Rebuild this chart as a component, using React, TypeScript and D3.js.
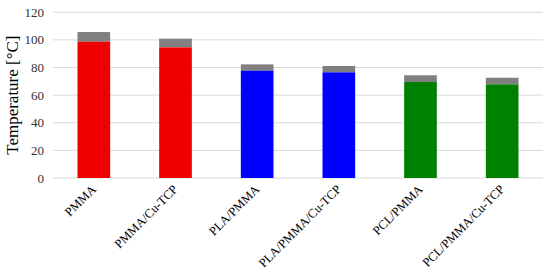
import React from 'react';
import * as d3 from 'd3';

const categories = ['PMMA', 'PMMA/Cu-TCP', 'PLA/PMMA', 'PLA/PMMA/Cu-TCP', 'PCL/PMMA', 'PCL/PMMA/Cu-TCP'];
// lower temperature (coloured part) and the extra range on top (grey part)
const baseValues = [98.7, 94.6, 77.7, 76.5, 69.5, 67.8];
const topValues = [105.7, 100.9, 82.3, 81.1, 74.4, 72.6];
const barColors = ['#ee0000', '#ee0000', '#0000ff', '#0000ff', '#008000', '#008000'];
const yTicks = [0, 20, 40, 60, 80, 100, 120];

const width = 550;
const height = 277;
const font = '"Liberation Serif", "Times New Roman", serif';

export default function App() {
    const x = d3.scaleBand<string>()
        .domain(categories)
        .range([53, 543])
        .padding(0);

    const y = d3.scaleLinear()
        .domain([0, 120])
        .range([178, 12.3]);

    const barW = x.bandwidth() * 0.4;

    return (
        <svg width={width} height={height}
             style={{ position: 'absolute', left: 0, top: 0, background: '#fff' }}>
            {yTicks.map(t => (
                <g key={t}>
                    <line x1={53} x2={543} y1={y(t)} y2={y(t)} stroke="#d9d9d9" strokeWidth={1} />
                    <text x={44} y={y(t)} dy="0.35em" textAnchor="end"
                          fontFamily={font} fontSize={13} fill="#333">{t}</text>
                </g>
            ))}
            {categories.map((c, i) => {
                const cx = x(c)! + x.bandwidth() / 2;
                return (
                    <g key={c}>
                        <rect x={cx - barW / 2} y={y(topValues[i])} width={barW}
                              height={y(baseValues[i]) - y(topValues[i])} fill="#808080" />
                        <rect x={cx - barW / 2} y={y(baseValues[i])} width={barW}
                              height={y(0) - y(baseValues[i])} fill={barColors[i]} />
                        <text transform={`translate(${cx + 3},${190}) rotate(-45)`}
                              textAnchor="end" fontFamily={font} fontSize={12.5} fill="#000">{c}</text>
                    </g>
                );
            })}
            <text transform={`translate(18,${y(60)}) rotate(-90)`} textAnchor="middle"
                  fontFamily={font} fontSize={17} fill="#000">Temperature [°C]</text>
        </svg>
    );
}
